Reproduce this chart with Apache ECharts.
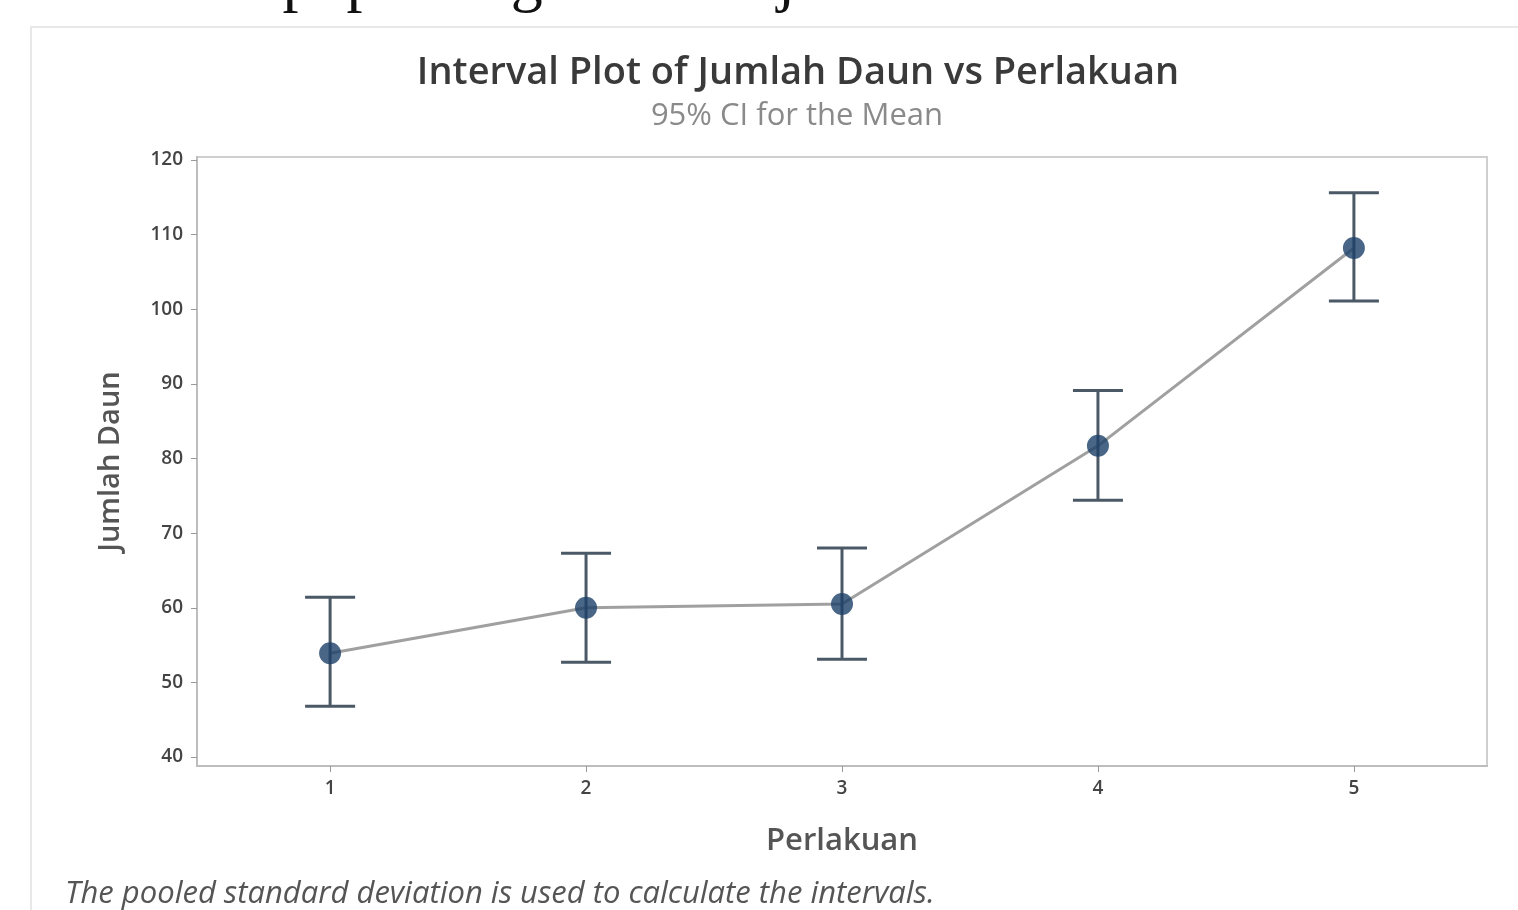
<!DOCTYPE html>
<html>
<head>
<meta charset="utf-8">
<script src="https://cdn.jsdelivr.net/npm/echarts@6/dist/echarts.min.js"></script>
<style>
  html, body { margin: 0; padding: 0; background: #fff; }
  #container1 { width: 1518px; height: 910px; }
</style>
</head>
<body>
<div id="container1"></div>
<script>
var perlakuan = [1, 2, 3, 4, 5];
var meanDaun = [53.9, 60.0, 60.5, 81.7, 108.2];
var lowerCI = [46.8, 52.7, 53.1, 74.4, 101.1];
var upperCI = [61.4, 67.3, 68.0, 89.1, 115.6];
var yTicks = [40, 50, 60, 70, 80, 90, 100, 110, 120];

var dom1 = document.getElementById("container1");
var myChart1 = echarts.init(dom1);

var meanData = [];
var barData = [];
for (var i = 0; i < perlakuan.length; i++) {
    meanData.push([perlakuan[i], meanDaun[i]]);
    barData.push([perlakuan[i], lowerCI[i], upperCI[i]]);
}

var option = {
    backgroundColor: '#fff',
    animation: false,
    title: [
        {
            text: 'Interval Plot of Jumlah Daun vs Perlakuan',
            left: 793,
            top: 49,
            textAlign: 'center',
            textStyle: { fontFamily: 'Open Sans', fontWeight: 600, fontSize: 38, color: '#3a3a3a' }
        },
        {
            text: '95% CI for the Mean',
            left: 792,
            top: 96,
            textAlign: 'center',
            textStyle: { fontFamily: 'Open Sans', fontWeight: 'normal', fontSize: 31, color: '#8a8a8a' }
        }
    ],
    graphic: [
        {
            type: 'text',
            left: -112,
            top: -50,
            style: {
                text: 'Grafik interval pupuk organik dan jumlah daun',
                font: '64px "Liberation Serif"',
                fill: '#111'
            }
        },
        {
            type: 'rect',
            shape: { x: 31, y: 27, width: 1500, height: 900 },
            style: { fill: 'none', stroke: '#e8e8e8', lineWidth: 2 }
        },
        {
            type: 'text',
            left: 65,
            top: 879,
            style: {
                text: 'The pooled standard deviation is used to calculate the intervals.',
                font: 'italic 31px "Open Sans"',
                fill: '#555'
            }
        }
    ],
    grid: {
        left: 197,
        right: 31,
        top: 157,
        bottom: 144,
        show: true,
        borderColor: '#cfcfcf',
        borderWidth: 2
    },
    xAxis: {
        type: 'value',
        min: 0.48,
        max: 5.52,
        name: 'Perlakuan',
        nameLocation: 'middle',
        nameGap: 60,
        nameTextStyle: { fontFamily: 'Open Sans', fontWeight: 600, fontSize: 31, color: '#555' },
        axisLine: { show: true, lineStyle: { color: '#bdbdbd', width: 2 } },
        axisTick: { show: true, customValues: perlakuan, length: 6, lineStyle: { color: '#999' } },
        axisLabel: { customValues: perlakuan, margin: 13, fontFamily: 'Open Sans', fontWeight: 600, fontSize: 19, color: '#444' },
        splitLine: { show: false }
    },
    yAxis: {
        type: 'value',
        min: 38.8,
        max: 120.4,
        name: 'Jumlah Daun',
        nameLocation: 'middle',
        nameGap: 72,
        nameTextStyle: { fontFamily: 'Open Sans', fontWeight: 600, fontSize: 29, color: '#555' },
        axisLine: { show: true, lineStyle: { color: '#bdbdbd', width: 2 } },
        axisTick: { show: true, customValues: yTicks, length: 6, lineStyle: { color: '#999' } },
        axisLabel: { customValues: yTicks, margin: 14, fontFamily: 'Open Sans', fontWeight: 600, fontSize: 19, color: '#444' },
        splitLine: { show: false }
    },
    series: [
        {
            name: 'mean line',
            type: 'line',
            data: meanData,
            symbol: 'none',
            lineStyle: { color: '#a0a0a0', width: 3 },
            z: 2
        },
        {
            name: 'CI',
            type: 'custom',
            data: barData,
            renderItem: function (params, api) {
                var x = api.value(0);
                var lo = api.coord([x, api.value(1)]);
                var hi = api.coord([x, api.value(2)]);
                var half = 25;
                var st = { stroke: '#4b5866', lineWidth: 3 };
                return {
                    type: 'group',
                    children: [
                        { type: 'line', shape: { x1: lo[0], y1: lo[1], x2: hi[0], y2: hi[1] }, style: st },
                        { type: 'line', shape: { x1: lo[0] - half, y1: lo[1], x2: lo[0] + half, y2: lo[1] }, style: st },
                        { type: 'line', shape: { x1: hi[0] - half, y1: hi[1], x2: hi[0] + half, y2: hi[1] }, style: st }
                    ]
                };
            },
            z: 3
        },
        {
            name: 'mean',
            type: 'scatter',
            data: meanData,
            symbol: 'circle',
            symbolSize: 22,
            itemStyle: { color: '#1b4069' },
            z: 4
        }
    ]
};

if (option && typeof option === 'object') {
    myChart1.setOption(option);
}
</script>
</body>
</html>
